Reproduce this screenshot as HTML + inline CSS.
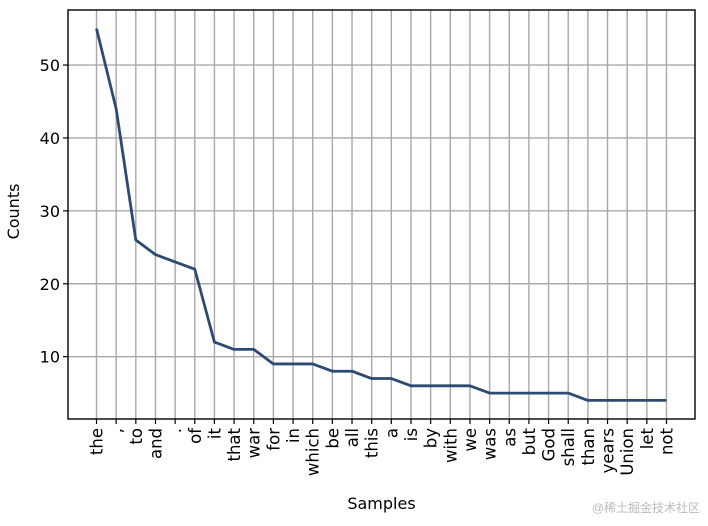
<!DOCTYPE html>
<html><head><meta charset="utf-8"><style>
body{margin:0;background:#fff;}
svg text{font-family:"DejaVu Sans","Liberation Sans",sans-serif;fill:#000;}
</style></head><body>
<svg id="c" width="708" height="521"></svg>
<script>
const categories=["the",",","to","and",".","of","it","that","war","for","in","which","be","all","this","a","is","by","with","we","was","as","but","God","shall","than","years","Union","let","not"];
const counts=[55,44,26,24,23,22,12,11,11,9,9,9,8,8,7,7,6,6,6,6,5,5,5,5,5,4,4,4,4,4];
const yTicks=[10,20,30,40,50];
const svg=document.getElementById('c');const NS="http://www.w3.org/2000/svg";
const L=68,R=695,T=10,B=419;
const n=categories.length;
const xmin=-0.05*(n-1),xmax=(n-1)*1.05;
const mx=Math.max(...counts),mn=Math.min(...counts),pad=(mx-mn)*0.05;
const ymin=mn-pad,ymax=mx+pad;
const X=i=>L+(i-xmin)/(xmax-xmin)*(R-L);
const Y=v=>B-(v-ymin)/(ymax-ymin)*(B-T);
function mk(t,a,p){const e=document.createElementNS(NS,t);for(const k in a)e.setAttribute(k,a[k]);(p||svg).appendChild(e);return e;}
const grid=mk('g',{});


categories.forEach((c,i)=>{
  const x=X(i);
  mk('line',{x1:x,x2:x,y1:T,y2:B,stroke:'#a8a8a8','stroke-width':1.4},grid);
  mk('line',{x1:x,x2:x,y1:B,y2:B+5,stroke:'#000','stroke-width':1.2});
  const t=mk('text',{x:0,y:0,transform:`translate(${x+6},${B+9}) rotate(-90)`,'text-anchor':'end','font-size':16.5});
  t.textContent=c;
  
  
});
yTicks.forEach(v=>{
  const y=Y(v);
  mk('line',{x1:L,x2:R,y1:y,y2:y,stroke:'#a8a8a8','stroke-width':1.4},grid);
  mk('line',{x1:L-5,x2:L,y1:y,y2:y,stroke:'#000','stroke-width':1.2});
  const t=mk('text',{x:L-8,y:y+6,'text-anchor':'end','font-size':16});
  t.textContent=v;
  
  
});
const p=mk('polyline',{points:counts.map((v,i)=>X(i)+','+Y(v)).join(' '),fill:'none',stroke:'#2c4a72','stroke-width':2.8,'stroke-linejoin':'round'});


const fr=mk('rect',{x:L,y:T,width:R-L,height:B-T,fill:'none',stroke:'#000','stroke-width':1.4});


const yl=mk('text',{x:0,y:0,transform:`translate(19,${(T+B)/2-3}) rotate(-90)`,'text-anchor':'middle','font-size':16});
yl.textContent='Counts';


const xl=mk('text',{x:(L+R)/2,y:509,'text-anchor':'middle','font-size':16});
xl.textContent='Samples';


const wm=mk('text',{x:700,y:512,'text-anchor':'end','font-size':12,style:'fill:#bbb;font-family:"Liberation Sans","Noto Sans CJK SC",sans-serif'});
wm.textContent='@稀土掘金技术社区';


</script>
</body></html>
